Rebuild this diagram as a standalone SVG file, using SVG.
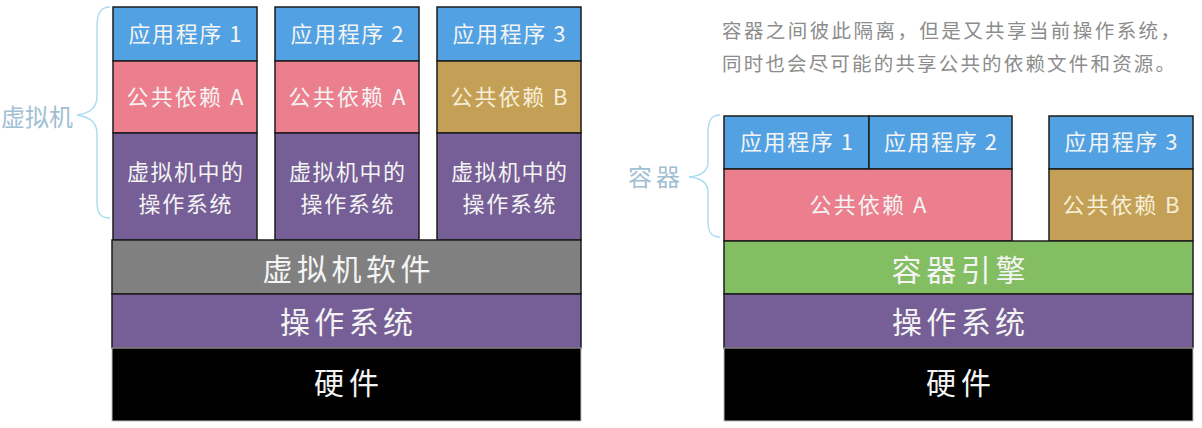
<svg xmlns="http://www.w3.org/2000/svg" width="1202" height="428" viewBox="0 0 1202 428">
<style>
  .box { stroke: #1c1c1c; stroke-width: 1.5; }
  .blue { fill: #52a2e3; }
  .pink { fill: #ec7f8d; }
  .tan { fill: #c4a056; }
  .purple { fill: #765f96; }
  .gray { fill: #808080; }
  .green { fill: #84be63; }
  .black { fill: #000000; }
  text { font-family: "PingFang SC", "Noto Sans CJK SC", "Noto Sans", sans-serif; }
  .lbl { fill: #f4f4f4; font-size: 22px; text-anchor: middle; }
  .big { fill: #f4f4f4; font-size: 30px; text-anchor: middle; }
  .cream { fill: #f6eed6; }
  .side { fill: #9fc0d3; font-size: 24px; }
  .note { fill: #8c8c8c; font-size: 19.5px; }
  .brace { fill: none; stroke: #a9dbf3; stroke-width: 1.4; }
</style>

<!-- Left: virtual machines -->
<g id="vm-label">
  <path class="brace" d="M110,7 C100,7 97,14 97,28 L97,96 C97,108 90,113 77,115 C90,117 97,122 97,134 L97,202 C97,213 100,218 110,218"/>
  <text class="side" x="73" y="126" text-anchor="end" textLength="72" lengthAdjust="spacing">虚拟机</text>
</g>

<g id="vm1">
  <rect class="box blue" x="113" y="7" width="144" height="54"/>
  <text class="lbl" x="185" y="42" textLength="113" lengthAdjust="spacing">应用程序 1</text>
  <rect class="box pink" x="113" y="61" width="144" height="72"/>
  <text class="lbl" x="185" y="105" textLength="117" lengthAdjust="spacing">公共依赖 A</text>
  <rect class="box purple" x="113" y="133" width="144" height="107"/>
  <text class="lbl" x="185" y="180" textLength="116" lengthAdjust="spacing">虚拟机中的</text>
  <text class="lbl" x="185" y="212" textLength="93" lengthAdjust="spacing">操作系统</text>
</g>

<g id="vm2">
  <rect class="box blue" x="275" y="7" width="144" height="54"/>
  <text class="lbl" x="347" y="42" textLength="113" lengthAdjust="spacing">应用程序 2</text>
  <rect class="box pink" x="275" y="61" width="144" height="72"/>
  <text class="lbl" x="347" y="105" textLength="117" lengthAdjust="spacing">公共依赖 A</text>
  <rect class="box purple" x="275" y="133" width="144" height="107"/>
  <text class="lbl" x="347" y="180" textLength="116" lengthAdjust="spacing">虚拟机中的</text>
  <text class="lbl" x="347" y="212" textLength="93" lengthAdjust="spacing">操作系统</text>
</g>

<g id="vm3">
  <rect class="box blue" x="437" y="7" width="144" height="54"/>
  <text class="lbl" x="509" y="42" textLength="113" lengthAdjust="spacing">应用程序 3</text>
  <rect class="box tan" x="437" y="61" width="144" height="72"/>
  <text class="lbl cream" x="509" y="105" textLength="117" lengthAdjust="spacing">公共依赖 B</text>
  <rect class="box purple" x="437" y="133" width="144" height="107"/>
  <text class="lbl" x="509" y="180" textLength="116" lengthAdjust="spacing">虚拟机中的</text>
  <text class="lbl" x="509" y="212" textLength="93" lengthAdjust="spacing">操作系统</text>
</g>

<g id="vm-software">
  <rect class="box gray" x="112" y="240" width="469" height="54"/>
  <text class="big" x="346.5" y="280" textLength="168" lengthAdjust="spacing">虚拟机软件</text>
</g>
<g id="vm-os">
  <rect class="purple" x="112" y="294" width="469" height="54" stroke="#1c1c1c" stroke-width="1.5"/>
  <text class="big" x="346.5" y="333" textLength="133" lengthAdjust="spacing">操作系统</text>
</g>
<g id="vm-hardware">
  <rect class="black" x="112" y="348" width="469" height="73" stroke="#bdbdbd" stroke-width="1"/>
  <text class="big" x="346.5" y="394" textLength="65" lengthAdjust="spacing">硬件</text>
</g>

<!-- Right: containers -->
<g id="note">
  <text class="note" x="722" y="38" textLength="458" lengthAdjust="spacing">容器之间彼此隔离，但是又共享当前操作系统，</text>
  <text class="note" x="722" y="71" textLength="453" lengthAdjust="spacing">同时也会尽可能的共享公共的依赖文件和资源。</text>
</g>

<g id="container-label">
  <path class="brace" d="M720,115 C711,115 708,121 708,133 L708,162 C708,172 700,176 689,177 C700,178 708,182 708,192 L708,221 C708,232 711,237 720,237"/>
  <text class="side" x="628" y="186" textLength="52" lengthAdjust="spacing">容器</text>
</g>

<g id="c-app1">
  <rect class="box blue" x="724" y="116" width="145" height="53"/>
  <text class="lbl" x="796.5" y="150" textLength="113" lengthAdjust="spacing">应用程序 1</text>
</g>
<g id="c-app2">
  <rect class="box blue" x="869" y="116" width="143" height="53"/>
  <text class="lbl" x="940.5" y="150" textLength="113" lengthAdjust="spacing">应用程序 2</text>
</g>
<g id="c-app3">
  <rect class="box blue" x="1049" y="116" width="144" height="53"/>
  <text class="lbl" x="1121" y="150" textLength="113" lengthAdjust="spacing">应用程序 3</text>
</g>
<g id="c-depA">
  <rect class="box pink" x="724" y="169" width="288" height="72"/>
  <text class="lbl" x="868" y="213" textLength="117" lengthAdjust="spacing">公共依赖 A</text>
</g>
<g id="c-depB">
  <rect class="box tan" x="1049" y="169" width="144" height="72"/>
  <text class="lbl cream" x="1121" y="213" textLength="117" lengthAdjust="spacing">公共依赖 B</text>
</g>
<g id="c-engine">
  <rect class="box green" x="724" y="241" width="469" height="53"/>
  <text class="big" x="958.5" y="281" textLength="134" lengthAdjust="spacing">容器引擎</text>
</g>
<g id="c-os">
  <rect class="purple" x="724" y="294" width="469" height="54" stroke="#1c1c1c" stroke-width="1.5"/>
  <text class="big" x="958.5" y="333" textLength="133" lengthAdjust="spacing">操作系统</text>
</g>
<g id="c-hardware">
  <rect class="black" x="724" y="348" width="469" height="73" stroke="#bdbdbd" stroke-width="1"/>
  <text class="big" x="958.5" y="394" textLength="65" lengthAdjust="spacing">硬件</text>
</g>

<g id="connectors"></g>
</svg>
